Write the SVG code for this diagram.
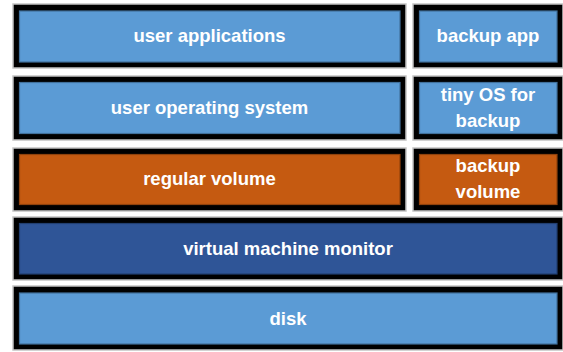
<svg xmlns="http://www.w3.org/2000/svg" width="563" height="352" viewBox="0 0 563 352">
<style>
.frame{fill:#000;stroke:#c4c4c4;stroke-width:1.5}
.blue{fill:#5B9BD5;stroke:#41719C;stroke-width:1.2}
.orange{fill:#C55A11;stroke:#8F420D;stroke-width:1.2}
.dark{fill:#2F5597;stroke:#223F70;stroke-width:1.2}
text{font-family:"Liberation Sans",Arial,sans-serif;font-weight:bold;font-size:18.5px;fill:#fff;text-anchor:middle}
</style>
<rect width="563" height="352" fill="#fff"/>
<g id="user-applications">
<rect class="frame" x="13" y="4" width="393" height="64"/>
<rect class="blue" x="19.5" y="11" width="380.5" height="51"/>
<text x="209.5" y="42">user applications</text>
</g>
<g id="backup-app">
<rect class="frame" x="413" y="4" width="150" height="64"/>
<rect class="blue" x="419.5" y="11" width="137.5" height="51"/>
<text x="488" y="42">backup app</text>
</g>
<g id="user-operating-system">
<rect class="frame" x="13" y="76" width="393" height="64"/>
<rect class="blue" x="19.5" y="82.5" width="380.5" height="51"/>
<text x="209.5" y="113.5">user operating system</text>
</g>
<g id="tiny-os">
<rect class="frame" x="413" y="76" width="150" height="64"/>
<rect class="blue" x="419.5" y="82.5" width="137.5" height="51"/>
<text x="488" y="101">tiny OS for</text>
<text x="488" y="127">backup</text>
</g>
<g id="regular-volume">
<rect class="frame" x="13" y="148" width="393" height="63"/>
<rect class="orange" x="19.5" y="154.5" width="380.5" height="50"/>
<text x="209.5" y="185">regular volume</text>
</g>
<g id="backup-volume">
<rect class="frame" x="413" y="148" width="150" height="63"/>
<rect class="orange" x="419.5" y="154.5" width="137.5" height="50"/>
<text x="488" y="172">backup</text>
<text x="488" y="198">volume</text>
</g>
<g id="virtual-machine-monitor">
<rect class="frame" x="13" y="217" width="550" height="63"/>
<rect class="dark" x="19.5" y="223.5" width="537.5" height="50.5"/>
<text x="288" y="255">virtual machine monitor</text>
</g>
<g id="disk">
<rect class="frame" x="13" y="286" width="550" height="64"/>
<rect class="blue" x="19.5" y="293" width="537.5" height="51"/>
<text x="288" y="324.5">disk</text>
</g>
<g id="connectors"/>
</svg>
